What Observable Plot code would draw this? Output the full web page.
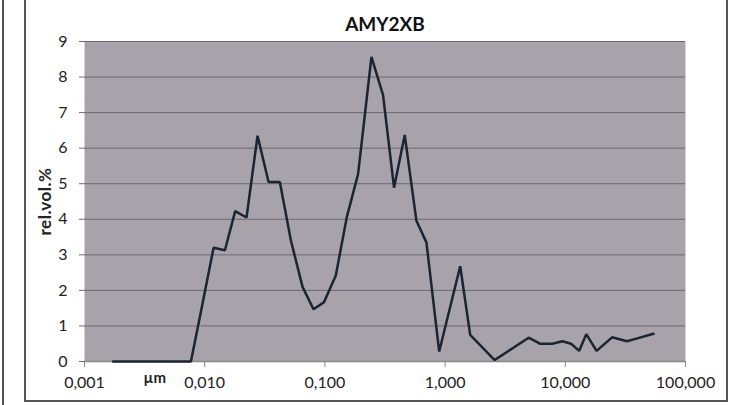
<!DOCTYPE html>
<html>
<head>
<meta charset="utf-8">
<script src="https://cdn.jsdelivr.net/npm/d3@7"></script>
<script src="https://cdn.jsdelivr.net/npm/@observablehq/plot@0.6"></script>
<style>
  html, body { margin: 0; padding: 0; background: #fff; }
  #wrap { position: relative; width: 743px; height: 405px; overflow: hidden; }
  #edge { position: absolute; left: 2px; top: 0; width: 0; height: 405px; border-left: 2px solid #555; }
  #box { position: absolute; left: 24px; top: -5px; width: 704px; height: 407px; border: 2px solid #555; border-top: none; box-sizing: border-box; pointer-events: none; }
</style>
</head>
<body>
<div id="wrap">
  <div id="chart"></div>
  <div id="edge"></div>
  <div id="box"></div>
</div>
<script>
// particle size (µm) and relative volume (%)
const sizes = [
  0.00173, 0.00214, 0.00265, 0.0033, 0.00408, 0.00507, 0.00628, 0.00768,
  0.0093, 0.01186, 0.01473, 0.01793, 0.02228, 0.02752, 0.03399, 0.04219,
  0.05208, 0.06514, 0.08036, 0.09847, 0.1232, 0.1521, 0.1888, 0.244,
  0.3047, 0.376, 0.4615, 0.5772, 0.6992, 0.8933, 1.3354, 1.617,
  2.584, 4.955, 6.152, 7.798, 9.441, 11.17, 13.06, 14.95,
  18.2, 24.49, 32.65, 39.66, 54.2
];
const relVol = [
  0, 0, 0, 0, 0, 0, 0, 0,
  1.4, 3.2, 3.13, 4.23, 4.05, 6.35, 5.05, 5.05,
  3.41, 2.1, 1.47, 1.67, 2.42, 4.06, 5.27, 8.57,
  7.49, 4.89, 6.37, 3.96, 3.35, 0.28, 2.68, 0.75,
  0.04, 0.67, 0.5, 0.5, 0.57, 0.5, 0.3, 0.77,
  0.3, 0.68, 0.57, 0.65, 0.78
];
const xTicks = [0.001, 0.01, 0.1, 1, 10, 100];
const yTicks = [0, 1, 2, 3, 4, 5, 6, 7, 8, 9];
const title = "AMY2XB";
const xUnit = "µm";
const yLabel = "rel.vol.%";

const data = sizes.map((s, i) => ({size: s, v: relVol[i]}));
const fmt = d => d3.format(".3f")(d).replace(".", ",");

const chart = Plot.plot({
  width: 743,
  height: 405,
  marginTop: 41,
  marginRight: 58,
  marginBottom: 44,
  marginLeft: 84,
  style: {fontFamily: "Lato, 'Open Sans', sans-serif", fontSize: "16px", background: "transparent", color: "#222"},
  x: {type: "log", domain: [0.001, 100]},
  y: {domain: [0, 9]},
  marks: [
    Plot.frame({fill: "#a8a3ab", stroke: null}),
    Plot.gridY(yTicks.filter(d => d > 0), {stroke: "#6d6870", strokeOpacity: 1, strokeWidth: 1}),
    Plot.ruleY([0], {stroke: "#8a868c", strokeWidth: 1.5}),
    Plot.axisX({ticks: xTicks, tickFormat: fmt, tickSize: 6, tickPadding: 9, stroke: "#8a868c", label: null, fontSize: 16}),
    Plot.axisY({ticks: yTicks, tickSize: 5, tickPadding: 12, stroke: "#6d6870", label: yLabel, labelAnchor: "center", labelOffset: 46, labelArrow: "none", fontSize: 16}),
    Plot.line(data, {x: "size", y: "v", stroke: "#1b2433", strokeWidth: 2.5, strokeLinejoin: "miter", curve: "linear"}),
    Plot.text([title], {frameAnchor: "top", dy: -24, fontSize: 19, fontWeight: "bold", fill: "#111"}),
    Plot.text([xUnit], {frameAnchor: "bottom-left", dx: 59, dy: 21, fontSize: 15, fontWeight: "bold", fill: "#222"})
  ]
});
// bold y-axis label
chart.querySelectorAll("g[aria-label='y-axis label'] text").forEach(t => {
  t.setAttribute("font-weight", "bold");
  t.setAttribute("font-size", "17");
  t.setAttribute("letter-spacing", "0.5");
});
document.getElementById("chart").appendChild(chart);
</script>
</body>
</html>
